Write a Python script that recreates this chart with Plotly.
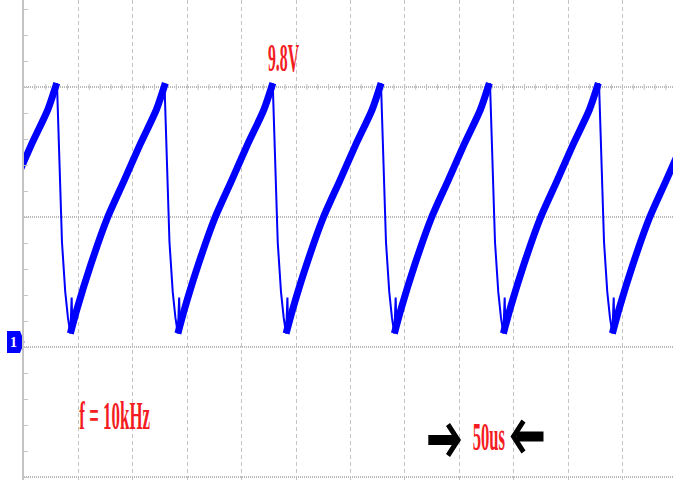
import plotly.graph_objects as go

# ---- data (time in us, voltage in V) ----
peak_times_us = [-69.5, 30.3, 129.1, 228.6, 328.1, 428.3, 528.5]
# falling edge, offsets from each peak
fall_dt_us = [0.0, 1.6, 4.6, 7.6, 10.1, 12.3]
fall_v = [10.15, 7.88, 4.04, 2.12, 1.12, 0.52]
# small spike just after the minimum (offset from minimum)
spike_dt_us = [1.2, 1.8]
spike_v = [1.9, 0.85]
# rising ramp, offsets from each minimum
rise_dt_us = [0.0, 6.4, 18.4, 34.0, 49.6, 64.3, 79.0, 87.3]
rise_v = [0.52, 1.50, 3.12, 4.96, 6.42, 7.81, 9.12, 10.15]

labels = {"peak": "9.8V", "freq": "f = 10kHz", "span": "50us", "chan": "1"}

# ---- build traces from the read values ----
thin_t, thin_v, thick_t, thick_v = [], [], [], []
for tp in peak_times_us:
    tmin = tp + fall_dt_us[-1]
    for dt, v in zip(fall_dt_us, fall_v):
        thin_t.append(tp + dt); thin_v.append(v)
    for dt, v in zip(spike_dt_us, spike_v):
        thin_t.append(tmin + dt); thin_v.append(v)
    thin_t.append(None); thin_v.append(None)
    for dt, v in zip(rise_dt_us, rise_v):
        thick_t.append(tmin + dt); thick_v.append(v)
    thick_t.append(None); thick_v.append(None)

BLUE = "#0000ff"
RED = "#f41c22"
GRID = "#c4c4c4"

W, H, ML = 673, 480, 24


def pxx(x):  # pixel column -> paper x
    return (x - ML) / (W - ML)


def pxy(y):  # pixel row -> paper y
    return (H - y) / H


def path(points):
    return "M " + " L ".join(f"{pxx(a):.5f},{pxy(b):.5f}" for a, b in points) + " Z"


fig = go.Figure()
fig.add_trace(go.Scatter(x=thick_t, y=thick_v, mode="lines",
                         line=dict(color=BLUE, width=7, shape="spline", smoothing=0.7),
                         hoverinfo="skip"))
fig.add_trace(go.Scatter(x=thin_t, y=thin_v, mode="lines",
                         line=dict(color=BLUE, width=2), hoverinfo="skip"))

shapes = []
# minor tick marks across the 10 V graticule line
for k in range(1, 60):
    shapes.append(dict(type="line", xref="x", yref="y", x0=k * 10, x1=k * 10,
                       y0=9.885, y1=10.115, line=dict(color=GRID, width=1),
                       layer="below"))
# channel-1 ground marker (pentagon)
shapes.append(dict(type="path", xref="paper", yref="paper", layer="below",
                   path=path([(7, 331), (20, 331), (24.5, 342), (20, 353), (7, 353)]),
                   fillcolor=BLUE, line=dict(width=0)))

# the two black arrows framing "50us"
for tipx, tipy, d, tail in [(461, 440, 1, 428.3), (510.5, 436.5, -1, 543.5)]:
    shapes.append(dict(type="line", xref="paper", yref="paper",
                       x0=pxx(tail), x1=pxx(tipx - d * 6), y0=pxy(tipy), y1=pxy(tipy),
                       line=dict(color="black", width=10)))
    shapes.append(dict(type="path", xref="paper", yref="paper",
                       path=path([(tipx - d * 15, tipy - 14), (tipx - d * 11, tipy - 17),
                                  (tipx, tipy), (tipx - d * 11, tipy + 17),
                                  (tipx - d * 15, tipy + 14), (tipx - d * 6, tipy)]),
                       fillcolor="black", line=dict(width=0)))

serif = "Liberation Serif"
annotations = [
    dict(x=238.4, y=11.15, xref="x", yref="y", text=labels["peak"], showarrow=False,
         font=dict(family=serif, size=41, color=RED, weight="bold")),
    dict(x=83.3, y=-2.62, xref="x", yref="y", text=labels["freq"], showarrow=False,
         font=dict(family=serif, size=41, color=RED, weight="bold")),
    dict(x=427.2, y=-3.42, xref="x", yref="y", text=labels["span"], showarrow=False,
         font=dict(family=serif, size=41, color=RED, weight="bold")),
    dict(x=pxx(13.5), y=pxy(342), xref="paper", yref="paper", xanchor="center",
         yanchor="middle", text="<b>" + labels["chan"] + "</b>", showarrow=False,
         bgcolor=BLUE, borderpad=1, borderwidth=0,
         font=dict(family=serif, size=14, color="white")),
]

fig.update_layout(
    width=W, height=H,
    margin=dict(l=ML, r=0, t=0, b=0, pad=0),
    paper_bgcolor="white", plot_bgcolor="white",
    showlegend=False,
    shapes=shapes, annotations=annotations,
    xaxis=dict(range=[0, 596.5], dtick=50, tick0=0, showgrid=True, gridcolor=GRID,
               griddash="4px,3px", gridwidth=1, zeroline=False, showline=False,
               showticklabels=False, ticks="", fixedrange=True),
    yaxis=dict(range=[-5.115, 13.346], dtick=5, tick0=0, showgrid=True, gridcolor="#b8b8b8",
               griddash="1px,1px", gridwidth=1.5, zeroline=False, showline=True,
               linecolor=GRID, linewidth=1.5, ticks="inside", ticklen=4, tickcolor=GRID,
               minor=dict(dtick=1, ticks="inside", ticklen=4, tickcolor=GRID, showgrid=False),
               showticklabels=False, fixedrange=True),
)

# the labels in the scope picture are strongly condensed: squeeze them horizontally
post = """
var gd = document.getElementById('{plot_id}');
var target = {'9.8V': 31.3, 'f = 10kHz': 70.7, '50us': 32.3};
gd.querySelectorAll('text.annotation-text').forEach(function(t){
  var w = target[t.textContent];
  if (!w) return;
  var bb = t.getBBox();
  if (!bb.width) return;
  var s = w / bb.width;
  var cx = bb.x + bb.width / 2;
  t.setAttribute('transform', 'translate(' + cx + ',0) scale(' + s + ',1) translate(' + (-cx) + ',0)');
});
"""

fig.write_html("out.html", post_script=post, config={"displayModeBar": False})
